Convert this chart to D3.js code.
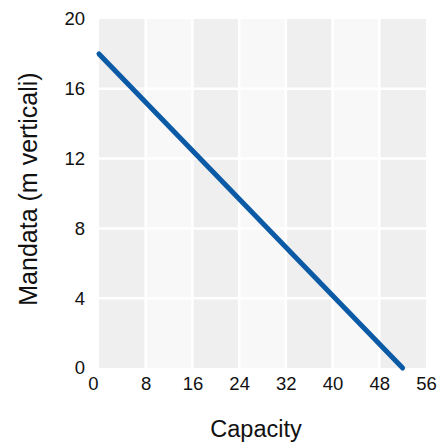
<!DOCTYPE html>
<html><head><meta charset="utf-8">
<script src="https://cdn.jsdelivr.net/npm/d3@7"></script>
<style>html,body{margin:0;padding:0;background:#fff;} text{font-family:"Liberation Sans",Arial,sans-serif;fill:#111;}</style>
</head><body>
<svg id="chart" width="442" height="443"></svg>
<script>
const lineX = [0, 52];
const lineY = [18, 0];
const xTicks = [0, 8, 16, 24, 32, 40, 48, 56];
const yTicks = [0, 4, 8, 12, 16, 20];
const xTitle = "Capacity";
const yTitle = "Mandata (m verticali)";

const svg = d3.select("#chart");
const x = d3.scaleLinear().domain([0, 56]).range([99, 426]);
const y = d3.scaleLinear().domain([0, 20]).range([368, 19]);

const bands = d3.pairs(xTicks);
svg.append("g").selectAll("rect").data(bands).join("rect")
  .attr("x", d => x(d[0])).attr("width", d => x(d[1]) - x(d[0]))
  .attr("y", y(20)).attr("height", y(0) - y(20))
  .attr("fill", (d, i) => i % 2 === 0 ? "#efefef" : "#f8f8f8");

svg.append("g").selectAll("line").data(xTicks.slice(1, -1)).join("line")
  .attr("x1", d => x(d)).attr("x2", d => x(d)).attr("y1", y(20)).attr("y2", y(0))
  .attr("stroke", "#fff").attr("stroke-width", 2.5);
svg.append("g").selectAll("line").data(yTicks.slice(1, -1)).join("line")
  .attr("y1", d => y(d)).attr("y2", d => y(d)).attr("x1", x(0)).attr("x2", x(56))
  .attr("stroke", "#fff").attr("stroke-width", 2.5);

const xAxis = svg.append("g").attr("transform", `translate(0,${y(0)})`)
  .call(d3.axisBottom(x).tickValues(xTicks).tickSize(0).tickPadding(9));
const yAxis = svg.append("g").attr("transform", `translate(${x(0)},0)`)
  .call(d3.axisLeft(y).tickValues(yTicks).tickSize(0).tickPadding(14));
[xAxis, yAxis].forEach(a => {
  a.select(".domain").remove();
  a.selectAll("text").attr("font-size", 18.5).attr("fill", "#111")
    .attr("font-family", "'Liberation Sans', Arial, sans-serif");
});
xAxis.selectAll(".tick").filter(d => d === 0).select("text").attr("dx", -6);

const data = lineX.map((v, i) => [v, lineY[i]]);
svg.append("path").datum(data)
  .attr("d", d3.line().x(d => x(d[0])).y(d => y(d[1])))
  .attr("fill", "none").attr("stroke", "#0b5aa6").attr("stroke-width", 5)
  .attr("stroke-linecap", "round");

svg.append("text").attr("x", 256).attr("y", 437).attr("text-anchor", "middle")
  .attr("font-size", 23.5).text(xTitle);
svg.append("text").attr("transform", "translate(37,189) rotate(-90)")
  .attr("text-anchor", "middle").attr("font-size", 25).text(yTitle);
</script>
</body></html>
